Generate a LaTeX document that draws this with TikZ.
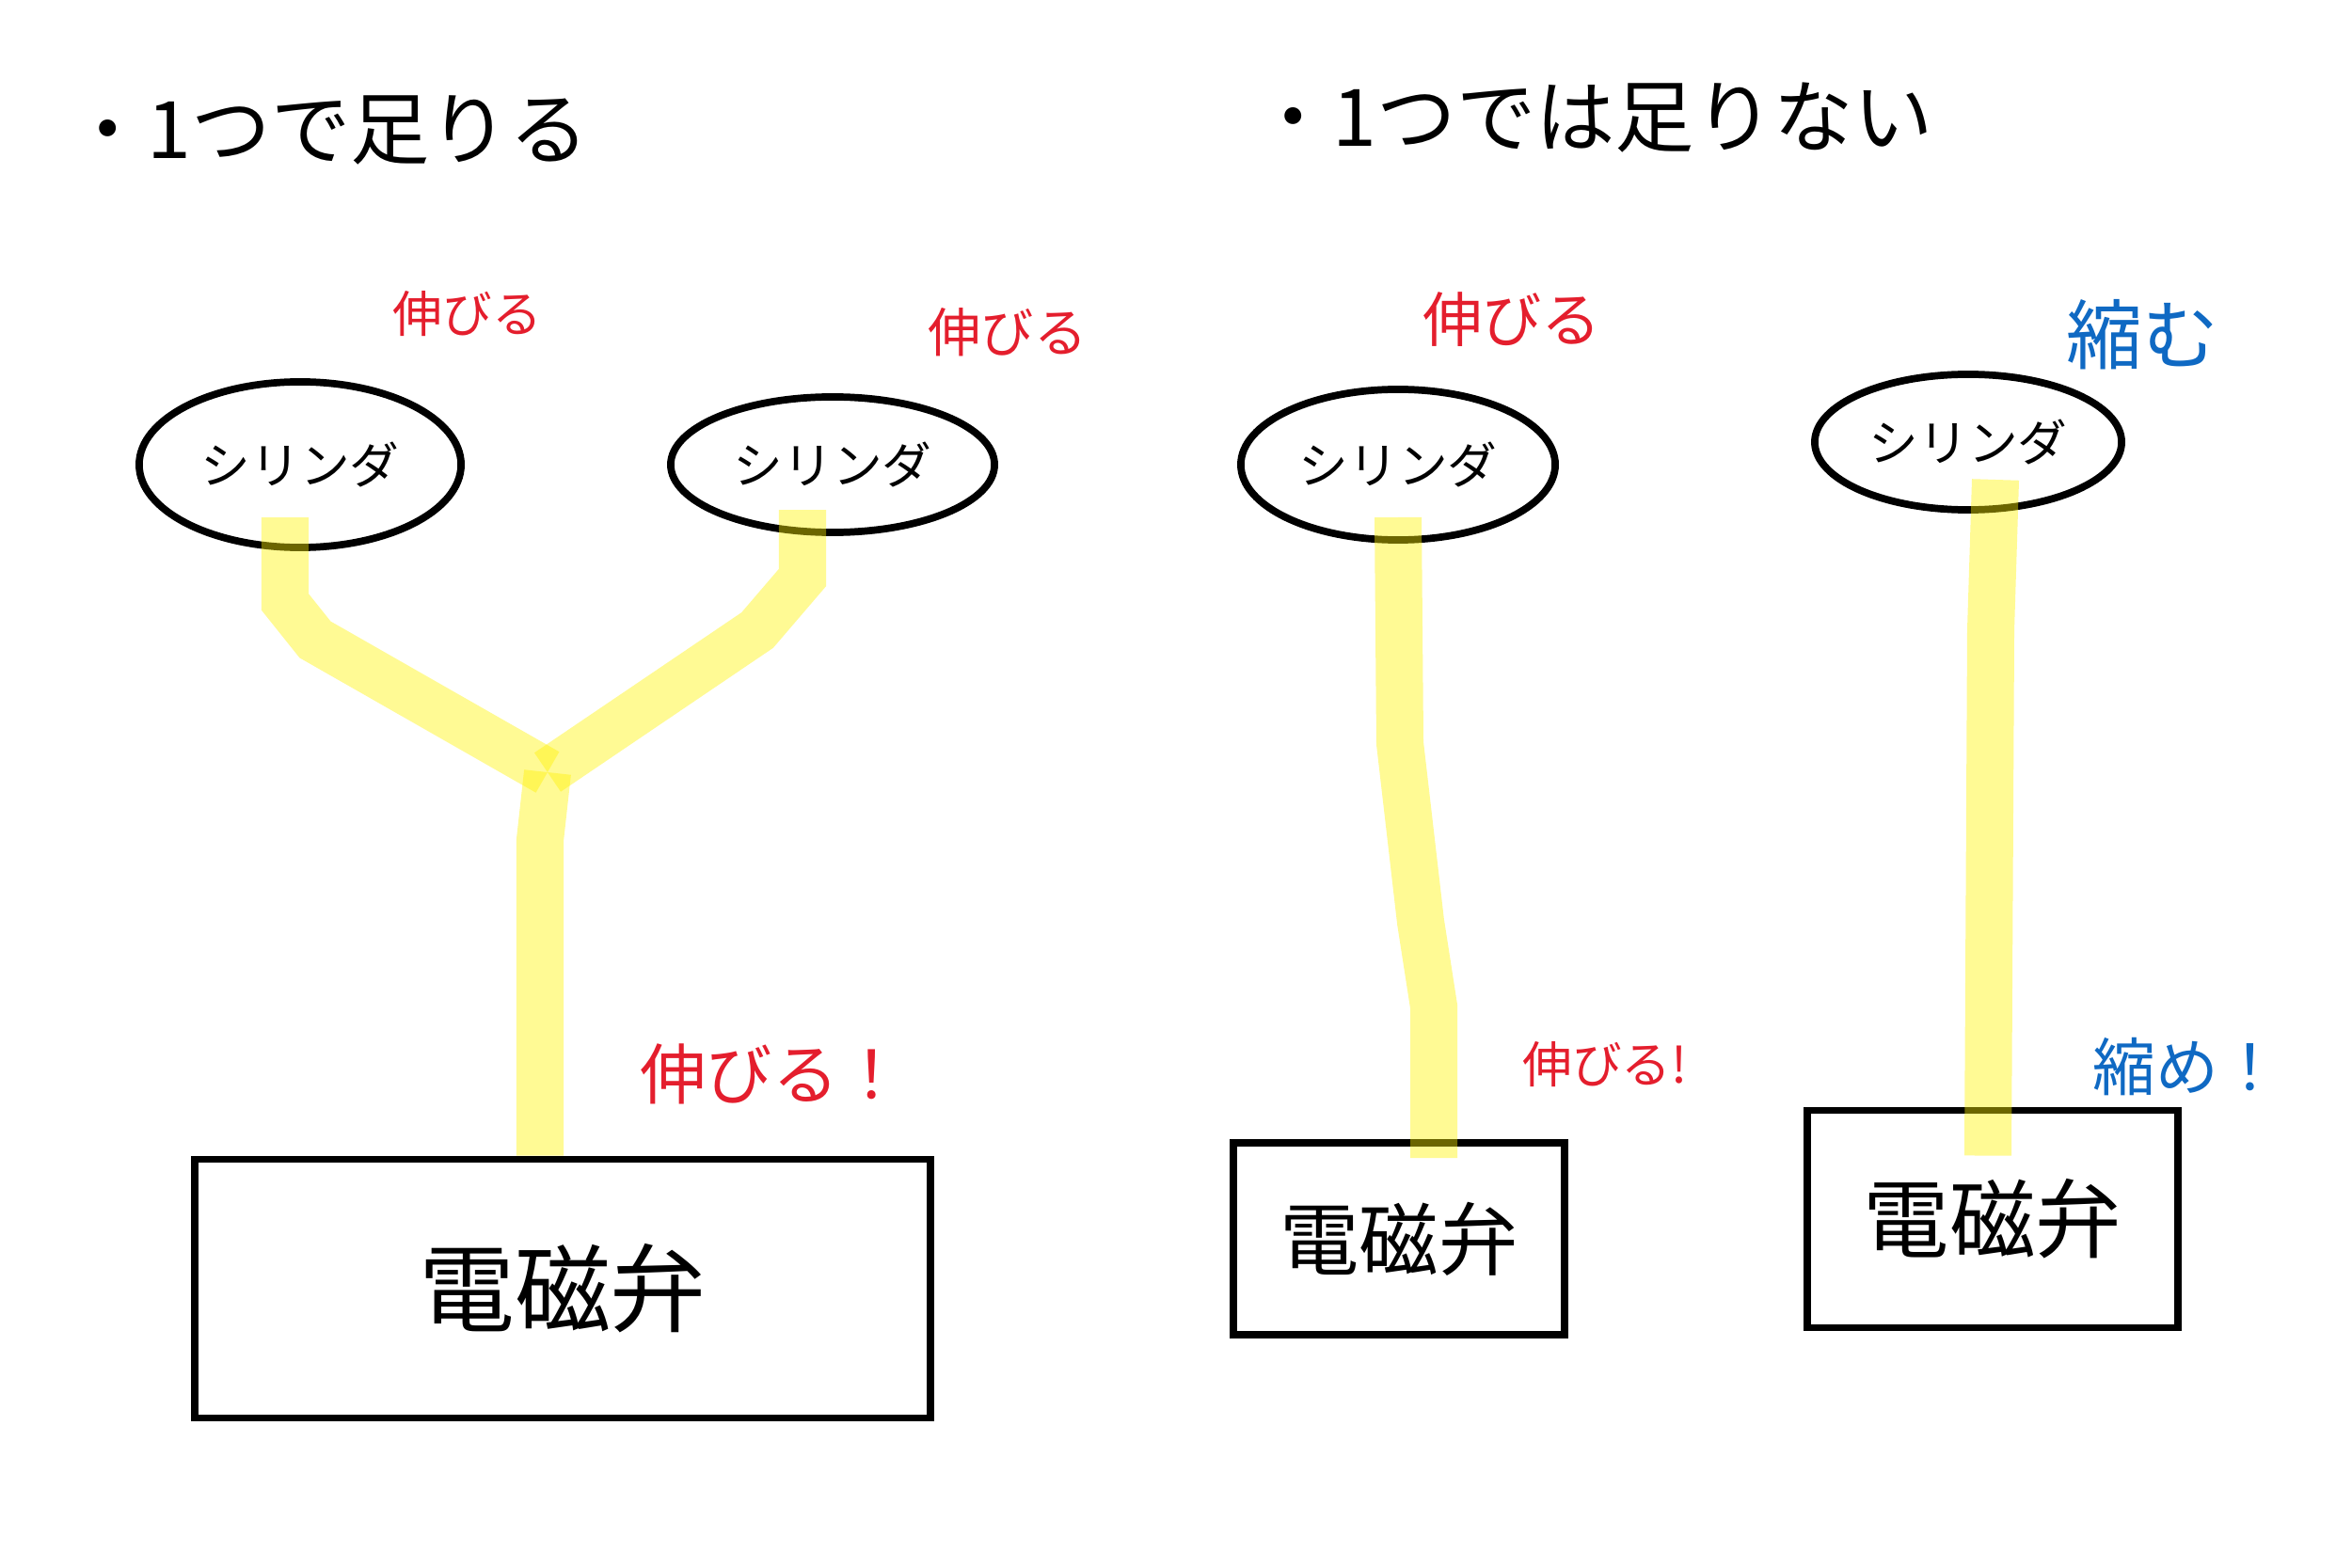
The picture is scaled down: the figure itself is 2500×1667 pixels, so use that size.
\documentclass[tikz,border=0pt]{standalone}
\usepackage{fontspec}
\setmainfont{Noto Sans CJK JP}
\usetikzlibrary{shapes.geometric,calc}
\definecolor{inkred}{RGB}{228,30,45}
\definecolor{inkblue}{RGB}{15,105,195}
\tikzset{
	cyl/.style={ellipse,draw,line width=2.2pt,minimum width=#1,inner sep=0pt,font=\fontsize{15}{17}\selectfont},
	valve/.style={draw,line width=2.2pt,inner sep=0pt},
	pipe/.style={line width=0.5cm,draw=yellow,draw opacity=0.42,line cap=butt},
	say/.style={text=inkred,inner sep=0pt}
}
\begin{document}
\begin{tikzpicture}
			\begin{scope}[x={0.01cm},y={-0.01cm}]
				\useasboundingbox (0,0) rectangle (2500,1667); % page

				\node[anchor=west,font=\fontsize{24}{26}\selectfont] (titleA) at (60,138) {・1つで足りる};
				\node[anchor=west,font=\fontsize{24}{26}\selectfont] (titleB) at (1320,125) {・1つでは足りない};

				% cylinders
				\node[cyl=3.42cm,minimum height=1.76cm] (cylA) at (319,494) {シリンダ};
				\node[cyl=3.44cm,minimum height=1.44cm] (cylB) at (885,494) {シリンダ};
				\node[cyl=3.34cm,minimum height=1.60cm] (cylC) at (1486,494) {シリンダ};
				\node[cyl=3.26cm,minimum height=1.44cm] (cylD) at (2092,470) {シリンダ};

				% valves
				\node[valve,minimum width=7.82cm,minimum height=2.75cm,font=\fontsize{29}{31}\selectfont] (valveA) at (598,1370) {電磁弁};
				\node[valve,minimum width=3.52cm,minimum height=2.04cm,font=\fontsize{24}{26}\selectfont] (valveB) at (1487,1317) {電磁弁};
				\node[valve,minimum width=3.94cm,minimum height=2.31cm,font=\fontsize{26}{28}\selectfont] (valveC) at (2118,1296) {電磁弁};

				\coordinate (joint) at (582,821); % branch

				% pipes
				\draw[pipe] ([shift={(-16,56)}]cylA.center) -- ++(0,90) -- (335,680) -- (joint);
				\draw[pipe] ([shift={(-32,48)}]cylB.center) -- ++(0,72) -- (805,670) -- (joint);
				\draw[pipe] (joint) -- (574,893) -- (valveA.north -| 574,0);
				\draw[pipe] ([shift={(0,56)}]cylC.center) -- (1488,790) -- (1510,980) -- (1524,1070) -- ($(valveB.north -| 1524,0)+(0,20)$);
				\draw[pipe] ([shift={(29,40)}]cylD.center) -- (2116,670) -- ($(valveC.north -| 2113,0)+(0,52)$);

				% labels
				\node[say,font=\fontsize{15}{17}\selectfont] (extA) at (497,334) {伸びる};
				\node[say,font=\fontsize{16}{18}\selectfont] (extB) at (1071,353) {伸びる};
				\node[say,font=\fontsize{18}{20}\selectfont] (extC) at (1607,340) {伸びる};
				\node[say,text=inkblue,font=\fontsize{23}{25}\selectfont] (retD) at (2277,356) {縮む};

				\node[say,font=\fontsize{20}{22}\selectfont] (cmdA) at (821,1142) {伸びる！};
				\node[say,font=\fontsize{15}{17}\selectfont] (cmdB) at (1706,1132) {伸びる!};
				\node[say,text=inkblue,font=\fontsize{19}{21}\selectfont] (cmdC) at (2325,1134) {縮め！};
			\end{scope}
		\end{tikzpicture}
\end{document}
